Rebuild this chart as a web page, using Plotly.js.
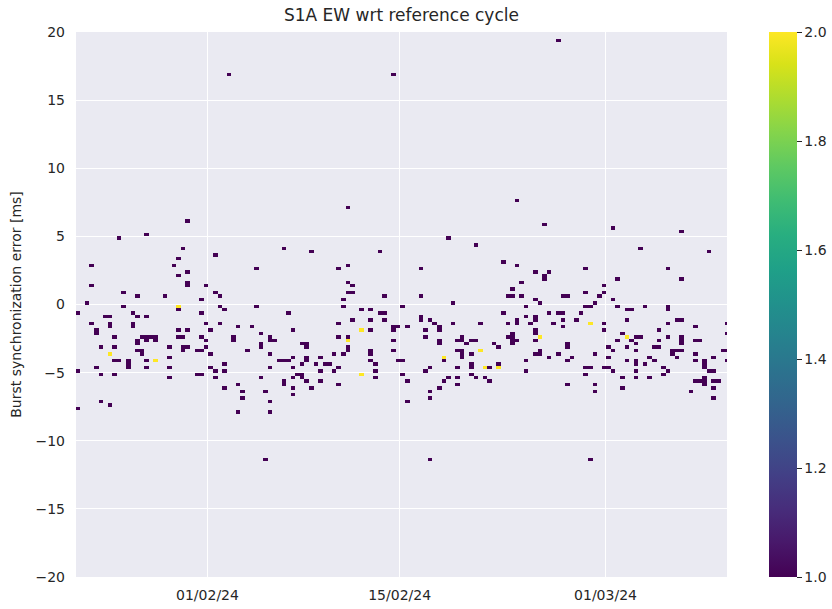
<!DOCTYPE html>
<html>
<head>
<meta charset="utf-8">
<script src="https://cdn.plot.ly/plotly-3.0.1.min.js"></script>
<style>
  html, body { margin: 0; padding: 0; background: #ffffff; }
  #chart { width: 832px; height: 609px; }
</style>
</head>
<body>
<div id="chart"></div>
<script>
// ---- Data: acquisition time (days since 2024-01-01 00:00 UTC) and burst synchronization error [ms]
// Cells holding one sample
const obsDay = [
  29.49,26.44,24.52,29.27,31.41,28.78,36.40,22.60,28.56,29.49,29.03,34.53,29.73,29.73,22.60,30.90,
  31.68,24.81,31.92,25.74,27.86,30.44,22.38,24.81,31.92,34.53,28.78,21.67,32.17,36.87,23.43,23.76,
  25.49,25.98,26.44,30.68,22.60,22.84,22.84,24.01,23.77,25.49,25.49,30.90,31.14,31.92,33.09,34.29,
  28.78,29.49,24.25,26.25,26.58,26.44,26.91,27.39,29.00,29.33,30.44,32.87,32.87,34.75,35.45,37.33,
  23.30,24.25,25.74,25.74,27.15,30.90,35.45,35.92,34.75,34.99,33.80,26.20,28.10,29.22,29.55,29.27,
  30.90,30.38,30.73,31.14,25.74,26.20,28.32,35.70,37.33,24.38,24.73,25.28,26.44,25.28,25.28,26.44,
  28.32,32.39,36.10,36.43,36.87,37.79,22.84,21.53,30.16,30.49,31.14,31.46,32.17,35.45,37.33,37.42,
  37.75,23.30,24.25,31.46,34.75,37.33,37.79,28.32,36.40,32.39,33.34,33.58,33.58,36.40,35.24,37.33,
  37.11,23.30,23.77,35.45,21.53,33.34,35.70,
  41.38,38.60,43.52,40.47,41.38,41.38,41.64,41.18,41.64,40.96,43.76,40.96,42.35,42.81,43.52,43.98,
  42.81,43.76,41.64,40.69,43.05,44.62,44.95,44.62,45.73,45.25,46.66,46.42,47.36,47.61,47.85,47.85,
  46.90,48.78,48.78,50.90,52.62,52.84,53.55,53.55,53.09,53.09,52.84,53.55,53.31,53.09,40.69,41.18,
  41.38,41.38,40.96,37.95,38.28,38.33,38.33,38.33,39.30,38.84,39.50,39.83,40.47,40.23,39.30,40.23,
  38.33,38.60,39.30,40.47,43.30,43.05,43.30,43.30,42.81,43.05,44.47,44.71,44.93,45.26,45.25,45.73,
  45.49,46.90,47.85,47.85,46.90,47.36,47.36,47.85,47.36,48.31,48.56,48.31,49.26,49.26,49.26,49.24,
  49.48,49.20,49.53,49.95,50.15,50.48,49.73,49.73,49.73,50.19,50.19,50.19,50.43,50.19,51.50,51.14,
  51.50,51.89,52.14,52.38,48.56,50.43,52.62,53.55,53.55,46.42,46.66,53.79,53.31,52.80,53.13,53.79,
  55.44,60.43,65.40,62.58,67.59,54.98,55.93,55.44,55.69,58.49,60.92,64.48,65.40,60.00,59.75,59.51,
  58.49,56.82,57.15,54.74,55.22,54.27,58.62,58.95,59.27,60.70,60.92,61.41,61.87,62.82,64.70,64.70,
  54.27,54.74,54.98,54.49,55.93,56.61,56.86,56.86,57.80,58.27,56.39,56.86,60.00,59.75,61.63,64.70,
  65.38,65.71,66.67,68.74,63.75,64.70,65.67,65.67,65.67,66.42,66.91,68.74,54.98,54.98,54.98,57.10,
  57.10,54.74,55.22,55.22,56.05,56.45,57.56,57.34,54.27,54.27,59.27,60.22,60.70,60.92,61.30,61.87,
  62.10,62.43,62.33,61.41,62.33,63.99,63.99,63.62,64.94,64.94,65.18,65.20,65.53,66.42,66.42,67.11,
  67.11,67.81,68.74,68.50,68.80,60.22,61.41,62.11,62.11,63.28,63.53,63.04,58.62,58.95,60.22,59.75,
  60.46,58.49,57.34,59.27,59.27,61.17,61.17,62.33,62.33,63.28,64.23,64.48,64.23,66.18,66.42,66.85,
  67.18,67.13,67.37,67.37,67.60,67.93,68.05,68.38,68.06,67.81,
  32.61,44.44,56.57,35.24,47.14,59.05
];
const obsErrMs = [
  6.08,5.15,4.86,4.10,3.64,3.49,4.10,2.85,2.85,2.39,2.22,2.53,1.58,1.29,1.29,1.29,
  0.97,0.82,0.68,0.58,0.68,0.26,0.09,-0.06,-0.06,-0.06,-0.43,-0.52,-0.38,-0.52,-0.84,-0.84,
  -0.69,-0.99,-0.84,-0.69,-1.31,-1.90,-2.15,-1.48,-1.62,-1.31,-1.62,-1.48,-1.80,-1.31,-1.62,-1.62,
  -1.80,-1.80,-2.26,-2.26,-2.26,-2.55,-2.26,-2.26,-2.26,-2.26,-2.43,-2.38,-2.63,-2.11,-2.26,-1.94,
  -3.04,-3.17,-2.58,-2.90,-2.73,-2.73,-2.58,-2.73,-2.90,-3.17,-3.34,-3.34,-3.17,-3.17,-3.17,-3.42,
  -3.17,-3.46,-3.46,-3.61,-3.46,-3.75,-3.92,-3.61,-3.92,-4.24,-4.24,-4.07,-4.24,-4.45,-4.70,-4.56,
  -4.56,-4.39,-4.24,-4.24,-4.24,-4.39,-4.71,-4.85,-5.03,-5.03,-4.71,-4.85,-4.85,-4.71,-4.56,-5.03,
  -5.03,-5.17,-5.17,-5.34,-5.34,-5.34,-5.49,-5.49,-5.64,-6.13,-5.95,-6.44,-6.76,-5.95,-6.27,-6.13,
  -6.59,-7.06,-7.32,-7.06,-7.74,-7.79,-7.94,
  7.18,3.95,3.95,2.53,2.85,1.58,1.29,0.97,0.82,0.41,0.58,-0.21,-0.38,-0.38,-0.69,-0.69,
  -1.01,-1.16,-1.16,-1.48,-1.80,-1.62,-1.62,-1.87,-1.62,-0.06,-0.84,-1.01,-1.16,-1.48,-1.62,-1.87,
  -1.94,0.09,-1.33,-1.33,-0.69,-1.33,-1.16,-1.48,-2.07,-2.32,-2.43,-2.58,-2.82,-2.73,-2.43,-2.43,
  -3.04,-3.34,-3.61,-2.90,-2.90,-3.04,-3.95,-4.20,-3.92,-4.39,-4.39,-4.39,-4.56,-3.75,-4.88,-4.88,
  -5.64,-6.13,-5.64,-5.81,-4.39,-4.24,-4.88,-5.34,-3.61,-3.34,-3.34,-2.58,-4.24,-4.24,-5.03,-5.64,
  -7.08,-2.43,-2.70,-2.95,-4.88,-4.56,-6.27,-6.13,-6.93,-4.14,-5.34,-5.64,-4.56,-5.49,-5.95,-3.34,
  -2.26,-2.58,-2.58,-2.90,-2.58,-2.58,-3.30,-3.55,-3.80,-3.75,-4.50,-4.75,-5.34,-5.17,-4.56,-5.34,
  -5.55,-2.90,-3.17,-4.39,4.98,4.44,3.02,2.85,7.50,2.71,0.68,1.58,1.14,0.58,0.58,0.58,
  5.94,5.62,5.30,4.10,3.81,2.39,2.39,2.07,1.75,2.53,1.75,2.71,1.90,1.29,0.97,0.58,
  0.82,0.68,0.68,0.41,0.09,-0.06,-0.06,-0.06,0.09,0.26,-0.06,-0.38,-0.38,-0.21,-0.18,-0.43,
  -0.84,-0.84,-1.16,-1.48,-0.52,-0.52,-0.69,-1.01,-1.01,-0.69,-1.31,-1.62,-1.48,-1.80,-1.01,-1.31,
  -1.16,-1.16,-1.62,-1.31,-1.94,-2.26,-2.43,-2.70,-2.95,-2.73,-2.73,-2.11,-1.93,-2.18,-2.58,-2.90,
  -3.17,-3.75,-3.40,-3.65,-3.80,-3.60,-3.92,-4.24,-4.24,-4.88,-3.61,-3.04,-3.44,-2.73,-2.20,-2.58,
  -2.43,-2.43,-2.90,-3.17,-3.34,-2.58,-3.04,-3.20,-3.40,-3.65,-3.83,-3.34,-3.34,-3.75,-4.07,-4.02,
  -4.27,-3.92,-4.07,-3.34,-3.46,-3.92,-4.07,-4.02,-4.27,-3.92,-4.07,-4.39,-4.56,-4.56,-4.56,-4.71,
  -4.88,-5.17,-5.81,-5.95,-6.27,-5.49,-6.13,-4.88,-5.34,-5.34,-4.56,-4.88,-5.17,-6.27,-5.64,-5.64,
  -5.64,-5.49,-5.95,-4.71,-4.88,-4.88,-5.64,-5.64,-6.13,-6.91,
  16.92,16.92,19.41,-11.41,-11.41,-11.27
];
// Cells holding two samples
const doubleDay   = [28.78, 23.77, 27.39, 42.35, 41.18, 42.35, 48.31, 50.90, 51.14, 52.38, 58.78, 55.22, 61.65];
const doubleErrMs = [-0.21, -3.75, -4.07, -1.80, -2.73, -5.03, -3.92, -3.34, -4.56, -4.58, -1.48, -2.26, -2.43];

// Axis labels
const tickDates  = ['2024-02-01', '2024-02-15', '2024-03-01'];
const tickLabels = ['01/02/24', '15/02/24', '01/03/24'];
const yTicks = [-20, -15, -10, -5, 0, 5, 10, 15, 20];
const cbTicks = [1.0, 1.2, 1.4, 1.6, 1.8, 2.0];

// ---- Binning (2-D histogram grid)
const EPOCH = Date.UTC(2024, 0, 1);
const DAY_MS = 86400000;
const X_START = 21.4, X_BIN = 1 / 3, NX = 143;
const Y_START = -20, Y_BIN = 0.25, NY = 160;

function dayToDate(d) {
  const t = new Date(EPOCH + d * DAY_MS);
  const p = n => String(n).padStart(2, '0');
  return t.getUTCFullYear() + '-' + p(t.getUTCMonth() + 1) + '-' + p(t.getUTCDate()) + ' ' +
         p(t.getUTCHours()) + ':' + p(t.getUTCMinutes()) + ':' + p(t.getUTCSeconds());
}

const z = [];
for (let j = 0; j < NY; j++) { z.push(new Array(NX).fill(null)); }
function put(day, err, count) {
  const i = Math.floor((day - X_START) / X_BIN);
  const j = Math.floor((err - Y_START) / Y_BIN);
  if (i < 0 || i >= NX || j < 0 || j >= NY) return;
  z[j][i] = Math.max(z[j][i] || 0, count);
}
for (let k = 0; k < obsDay.length; k++) put(obsDay[k], obsErrMs[k], 1);
for (let k = 0; k < doubleDay.length; k++) put(doubleDay[k], doubleErrMs[k], 2);

const xCenters = [], yCenters = [];
for (let i = 0; i < NX; i++) xCenters.push(dayToDate(X_START + (i + 0.5) * X_BIN));
for (let j = 0; j < NY; j++) yCenters.push(Y_START + (j + 0.5) * Y_BIN);

const txt = '#262626';
const FONT = 'DejaVu Sans, sans-serif';

const trace = {
  type: 'heatmap',
  x: xCenters, y: yCenters, z: z,
  colorscale: 'Viridis', zmin: 1, zmax: 2,
  zsmooth: false, hoverinfo: 'skip',
  colorbar: {
    thickness: 28, thicknessmode: 'pixels',
    len: 1, lenmode: 'fraction',
    x: 1.0645, xanchor: 'left', xpad: 0,
    y: 0.5, yanchor: 'middle', ypad: 0,
    outlinewidth: 0,
    tickmode: 'array', tickvals: cbTicks, tickformat: '.1f',
    ticks: 'outside', ticklen: 5, tickwidth: 1, tickcolor: txt,
    tickfont: { family: FONT, size: 14, color: txt }
  }
};

const layout = {
  width: 832, height: 609,
  margin: { l: 76, r: 105, t: 32, b: 32, pad: 0, autoexpand: false },
  paper_bgcolor: '#ffffff',
  plot_bgcolor: '#EAEAF2',
  font: { family: FONT, size: 14, color: txt },
  title: { text: 'S1A EW wrt reference cycle', x: 0.4825, xanchor: 'center', y: 0.975, yanchor: 'middle',
           font: { family: FONT, size: 17, color: txt } },
  xaxis: {
    type: 'date',
    range: [dayToDate(21.42), dayToDate(68.85)],
    tickmode: 'array', tickvals: tickDates, ticktext: tickLabels,
    showgrid: true, gridcolor: '#ffffff', gridwidth: 1,
    zeroline: false, showline: false, ticks: '',
    tickfont: { family: FONT, size: 14, color: txt },
    ticklabelstandoff: 8
  },
  yaxis: {
    range: [-20, 20],
    tickmode: 'array', tickvals: yTicks,
    showgrid: true, gridcolor: '#ffffff', gridwidth: 1,
    zeroline: false, showline: false, ticks: '',
    tickfont: { family: FONT, size: 14, color: txt },
    ticklabelstandoff: 10,
    title: { text: 'Burst synchronization error [ms]', font: { family: FONT, size: 14, color: txt }, standoff: 10 }
  }
};

Plotly.newPlot('chart', [trace], layout, { staticPlot: true, displayModeBar: false });
</script>
</body>
</html>
